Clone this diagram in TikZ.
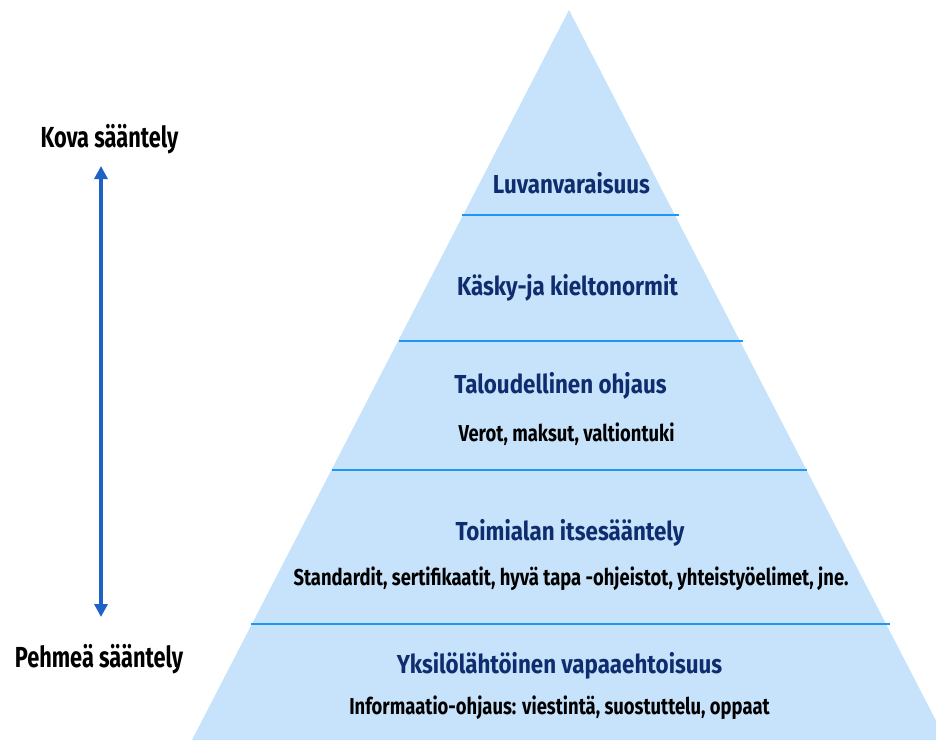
\documentclass[tikz,border=0pt]{standalone}
\usepackage{fontspec}
\usetikzlibrary{arrows.meta}
\setmainfont{Fira Sans}[FakeStretch=0.8]
\newfontfamily\titlefont{Fira Sans}[FakeStretch=0.86]
\newfontfamily\subfont{Fira Sans}[FakeStretch=0.8]
\newfontfamily\sidefont{Fira Sans}[FakeStretch=0.75]
\definecolor{pyrfill}{HTML}{C6E3FB}
\definecolor{pyrline}{HTML}{1E96F5}
\definecolor{navy}{HTML}{0F2D6E}
\definecolor{arrowblue}{HTML}{1E62C8}
\tikzset{
  title/.style={font=\titlefont\bfseries\fontsize{26}{29}\selectfont, text=navy, anchor=base, inner sep=0pt},
  sub/.style={font=\subfont\bfseries\fontsize{23}{26}\selectfont, text=black, anchor=base, inner sep=0pt},
  side/.style={font=\sidefont\bfseries\fontsize{29}{32}\selectfont, text=black, anchor=base, inner sep=0pt},
  layer/.style={draw=pyrline, line width=1.6pt},
}
\begin{document}
\begin{tikzpicture}[x=1pt,y=-1pt]
\useasboundingbox (0,0) rectangle (936,740);
\begin{scope}
\clip (0,0) rectangle (936,740);
\fill[pyrfill] (569,10) -- (192,740) -- (946,740) -- cycle;
\draw[layer] (462,215) -- (679,215);
\draw[layer] (399,341) -- (743,341);
\draw[layer] (332,470) -- (807,470);
\draw[layer] (251,624) -- (890,624);
\end{scope}
\node[side] (kova) at (109.5,147) {Kova sääntely};
\node[side] (pehmea) at (99,667) {Pehmeä sääntely};
\coordinate (atop) at (101,166);
\coordinate (abot) at (101,617);
\draw[arrowblue, line width=3.4pt, {Triangle[length=13pt,width=13pt]}-{Triangle[length=13pt,width=13pt]}] (abot) -- (atop);
\node[title] (t1) at (571.5,193) {Luvanvaraisuus};
\node[title] (t2) at (567.5,295) {Käsky-ja kieltonormit};
\node[title] (t3) at (560.5,393) {Taloudellinen ohjaus};
\node[sub] (s3) at (566.5,441) {Verot, maksut, valtiontuki};
\node[title] (t4) at (570,540) {Toimialan itsesääntely};
\node[sub] (s4) at (571,585) {Standardit, sertifikaatit, hyvä tapa -ohjeistot, yhteistyöelimet, jne.};
\node[title] (t5) at (559.5,673) {Yksilölähtöinen vapaaehtoisuus};
\node[sub] (s5) at (559.5,714) {Informaatio-ohjaus: viestintä, suostuttelu, oppaat};
\end{tikzpicture}
\end{document}
